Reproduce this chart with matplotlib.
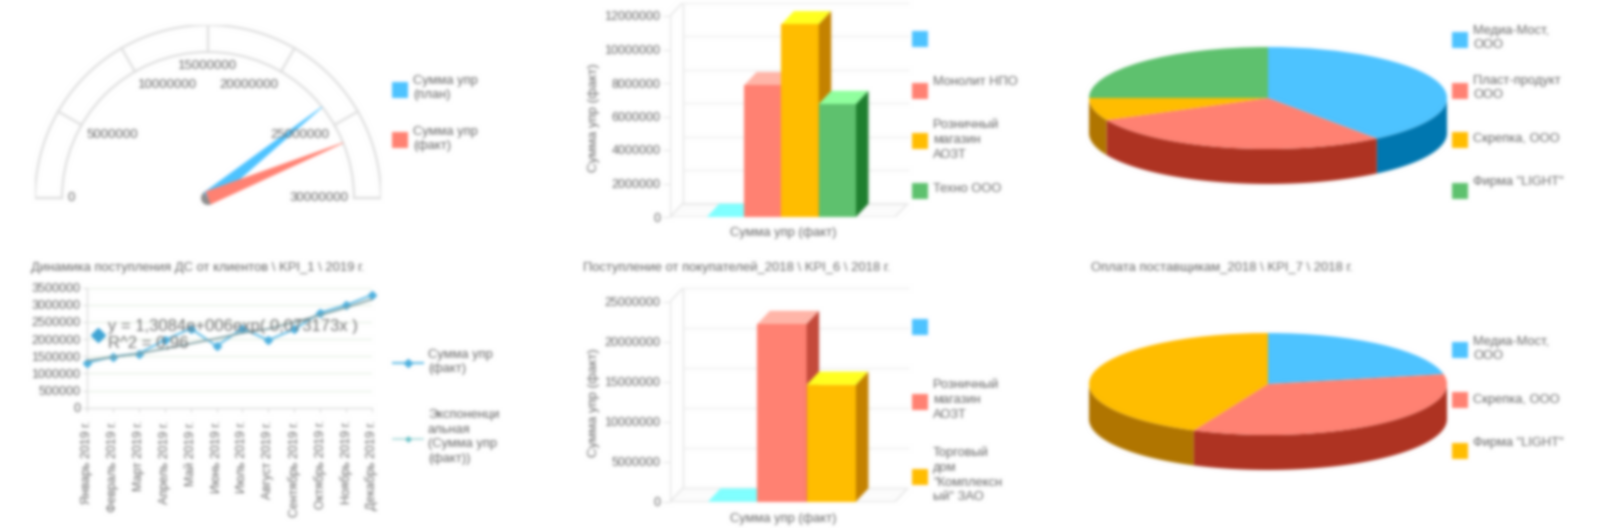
import numpy as np
import matplotlib
matplotlib.use("Agg")
import matplotlib.pyplot as plt
from matplotlib.patches import Wedge, Circle, Polygon, Rectangle

W, H = 1601, 528
BLUR_SIGMA = 1.6

plt.rcParams["font.family"] = ["Liberation Sans", "DejaVu Sans"]

TEXT = "#666666"
GRID = "#e3e3e3"
BLUE, RED, ORANGE, GREEN = "#4DC3FF", "#FF8172", "#FFBD00", "#5EC16E"
SIDE = {BLUE: "#0077B0", RED: "#AE3322", ORANGE: "#B07500", GREEN: "#2E8B42"}
BAR_SIDE = {RED: "#C44A3B", ORANGE: "#C48200", GREEN: "#1F7F2F"}
BAR_TOP = {BLUE: "#80FFFF", RED: "#FFB5A8", ORANGE: "#FFFF20", GREEN: "#90FF9E"}

# gauge
gauge_ticks = [0, 5000000, 10000000, 15000000, 20000000, 25000000, 30000000]
gauge_plan = 23570000
gauge_fact = 26300000

# line chart
months = ["Январь 2019 г.", "Февраль 2019 г.", "Март 2019 г.", "Апрель 2019 г.",
          "Май 2019 г.", "Июнь 2019 г.", "Июль 2019 г.", "Август 2019 г.",
          "Сентябрь 2019 г.", "Октябрь 2019 г.", "Ноябрь 2019 г.", "Декабрь 2019 г."]
fact = [1310000, 1490000, 1580000, 1970000, 2310000, 1800000,
        2310000, 1970000, 2290000, 2770000, 2990000, 3290000]
trend = [1370000, 1480000, 1580000, 1720000, 1870000, 2020000,
         2180000, 2300000, 2490000, 2700000, 2920000, 3160000]
line_ticks = [0, 500000, 1000000, 1500000, 2000000, 2500000, 3000000, 3500000]

# bar charts
bars_top = [0, 7860000, 11500000, 6740000]
bars_top_colors = [BLUE, RED, ORANGE, GREEN]
bars_top_ticks = [0, 2000000, 4000000, 6000000, 8000000, 10000000, 12000000]
bars_bottom = [0, 22200000, 14600000]
bars_bottom_colors = [BLUE, RED, ORANGE]
bars_bottom_ticks = [0, 5000000, 10000000, 15000000, 20000000, 25000000]

# pies
pie_top = [39.6, 28.3, 7.1, 25.0]
pie_top_colors = [BLUE, RED, ORANGE, GREEN]
pie_bottom = [21.9, 34.9, 43.2]
pie_bottom_colors = [BLUE, RED, ORANGE]


def blur(img, dpi):
    # soft look of the source picture, text stays text
    r = int(BLUR_SIGMA * 3)
    k = np.exp(-0.5 * (np.arange(-r, r + 1) / BLUR_SIGMA) ** 2)
    k /= k.sum()
    out = img
    for axis in (0, 1):
        pad = [(0, 0)] * 3
        pad[axis] = (r, r)
        p = np.pad(out, pad, mode="edge")
        out = np.apply_along_axis(lambda a: np.convolve(a, k, mode="valid"), axis, p)
    return out, 0, 0


def panel(x0, y0, x1, y1):
    ax = fig.add_axes([x0 / W, 1 - y1 / H, (x1 - x0) / W, (y1 - y0) / H])
    ax.patch.set_alpha(0)
    return ax


fig = plt.figure(figsize=(W / 100, H / 100), dpi=100, facecolor="white")
fig.set_agg_filter(blur)

# overlay in pixels for titles and legends, above the chart axes
ov = panel(0, 0, W, H)
ov.set_xlim(0, W)
ov.set_ylim(H, 0)
ov.axis("off")
ov.set_zorder(10)


def legend(x_sw, x_txt, items):
    for y_sw, y_txt, color, label in items:
        ov.add_patch(Rectangle((x_sw, y_sw - 8), 16, 16, fc=color, ec="none"))
        ov.text(x_txt, y_txt, label, fontsize=9.3, color=TEXT, va="center", ha="left",
                linespacing=1.3)


def draw_gauge():
    cx, cy, r_out, r_in = 208, 198, 173, 146
    ax = panel(cx - r_out, cy - r_out, cx + r_out, cy + 12)
    ax.set_xlim(-r_out, r_out)
    ax.set_ylim(-12, r_out)
    ax.axis("off")
    ax.add_patch(Wedge((0, 0), r_out, 0, 180, width=r_out - r_in, fc="none", ec="#dedede", lw=1.6))
    vmax = gauge_ticks[-1]
    for v in gauge_ticks:
        a = np.pi * (1 - v / vmax)
        ax.plot([r_in * np.cos(a), r_out * np.cos(a)], [r_in * np.sin(a), r_out * np.sin(a)],
                color="#dedede", lw=1.6)
        x, y = 140 * np.cos(a), 132 * abs(np.sin(a)) ** 1.07
        ha = "center" if abs(x) < 5 else ("left" if x < 0 else "right")
        ax.text(x, y, str(v), fontsize=9.5, color=TEXT, ha=ha, va="center")
    for v, color in ((gauge_plan, BLUE), (gauge_fact, RED)):
        a = np.pi * (1 - v / vmax)
        d = np.array([np.cos(a), np.sin(a)])
        n = np.array([-d[1], d[0]])
        ax.add_patch(Polygon([n * 7, d * r_in + n * 0.4, d * r_in - n * 0.4, -n * 7], fc=color, ec="none"))
    ax.add_patch(Circle((0, 0), 7, fc="#8d8d8d", ec="none", zorder=0.5))
    legend(392, 413, [(90, 88, BLUE, "Сумма упр\n(план)"), (140, 139, RED, "Сумма упр\n(факт)")])


def draw_line():
    ax = panel(87, 287.7, 372, 407.7)
    x = np.arange(len(months))
    ax.plot(x, fact, color="#62BDE6", lw=1.5, marker="D", ms=4.5, mfc="#4DB0DE", mec="#4DB0DE",
            clip_on=False, zorder=3)
    ax.plot(x, trend, color="#7E9EA0", lw=1.3, clip_on=False, zorder=4)
    ax.set_xlim(0, 11)
    ax.set_ylim(0, 3500000)
    ax.set_yticks(line_ticks, [str(v) for v in line_ticks])
    ax.set_xticks(x, months, rotation=90)
    ax.grid(axis="y", color="#e9f1e6", lw=1)
    ax.set_axisbelow(True)
    for s in ("top", "right"):
        ax.spines[s].set_visible(False)
    for s in ("left", "bottom"):
        ax.spines[s].set_color("#d8d8d8")
    ax.tick_params(axis="y", labelsize=9.1, labelcolor=TEXT, color="#d8d8d8", length=3, pad=2)
    ax.tick_params(axis="x", labelsize=8.9, labelcolor=TEXT, color="#d8d8d8", length=3, pad=6)
    ov.text(31, 268, "Динамика поступления ДС от клиентов \\ KPI_1 \\ 2019 г.", fontsize=9.4, color=TEXT, va="center")
    ov.plot([98], [335], marker="D", ms=7.5, color="#3FA4D4", zorder=5)
    ov.text(108, 326, "y = 1,3084e+006exp( 0,073173x )", fontsize=12, color="#707070", va="center", zorder=6)
    ov.text(108, 343, "R^2 = 0,96", fontsize=12, color="#707070", va="center", zorder=6)
    ov.plot([393, 423], [363, 363], color="#62BDE6", lw=1.5)
    ov.plot([408], [363], marker="D", ms=4.5, color="#4DB0DE")
    ov.plot([393, 423], [439, 439], color="#A6D8D8", lw=1.2)
    ov.plot([408], [439], marker="D", ms=2.5, color="#62BFC4")
    ov.text(428, 362, "Сумма упр\n(факт)", fontsize=9.3, color=TEXT, va="center", linespacing=1.3)
    ov.text(428, 437, "Экспоненци\nальная\n(Сумма упр\n(факт))", fontsize=9.3, color=TEXT, va="center", linespacing=1.3)


def draw_bars(base_px, top_px, vmax, values, colors, ticks, start, bar_w, x_label_y, y_label_y):
    x0, x1, dx_px, dy_px = 670, 895, 12.5, 13.3
    wall_top = top_px - dy_px
    ax = panel(x0, wall_top, x1 + dx_px, base_px)
    per_px = vmax / (base_px - top_px)
    ax.set_xlim(0, x1 + dx_px - x0)
    ax.set_ylim(0, (base_px - wall_top) * per_px)
    dy = dy_px * per_px
    span = x1 - x0
    # walls and floor
    ax.add_patch(Polygon([(0, 0), (span, 0), (span + dx_px, dy), (dx_px, dy)], fc="#fcfcfc", ec=GRID, lw=1))
    ax.plot([dx_px, dx_px], [dy, vmax + dy], color=GRID, lw=1)
    ax.plot([0, dx_px], [vmax, vmax + dy], color=GRID, lw=1)
    ax.plot([0, 0], [0, vmax], color=GRID, lw=1)
    for v in ticks:
        ax.plot([dx_px, span + dx_px], [v + dy, v + dy], color="#eeeeee", lw=1, clip_on=False)
    # bars, left to right so that the nearer one covers the side of the previous
    for i, (v, c) in enumerate(zip(values, colors)):
        l = start + i * bar_w
        r = l + bar_w
        ax.add_patch(Polygon([(l, v), (r, v), (r + dx_px, v + dy), (l + dx_px, v + dy)],
                             fc=BAR_TOP[c], ec="none", zorder=3))
        if v > 0:
            ax.add_patch(Rectangle((l, 0), bar_w, v, fc=c, ec="none", zorder=3))
            ax.add_patch(Polygon([(r, 0), (r + dx_px, dy), (r + dx_px, v + dy), (r, v)],
                                 fc=BAR_SIDE[c], ec="none", zorder=3))
    ax.set_xticks([])
    ax.set_yticks(ticks, [str(v) for v in ticks])
    ax.tick_params(axis="y", labelsize=9, labelcolor=TEXT, color=GRID, length=5, pad=2)
    for s in ax.spines.values():
        s.set_visible(False)
    ov.text(783, x_label_y, "Сумма упр (факт)", fontsize=9.3, color=TEXT, ha="center", va="center")
    ov.text(594, y_label_y, "Сумма упр (факт)", fontsize=9.5, color=TEXT, ha="center", va="center", rotation=90)


def draw_pie(cy, values, colors):
    cx, a_px, b_px, depth_px = 1268, 179, 51, 35
    ax = panel(cx - a_px, cy - b_px, cx + a_px, cy + b_px + depth_px)
    ax.pie(values, colors=colors, startangle=90, counterclock=False, radius=1,
           wedgeprops={"linewidth": 0}, frame=False)
    ax.set_aspect("auto")
    d = depth_px / b_px
    ax.set_xlim(-1, 1)
    ax.set_ylim(-1 - d, 1)
    # side of the disc, only the near half shows
    edges = np.cumsum([0] + list(values)) / sum(values) * 360
    for t0, t1, c in zip(edges[:-1], edges[1:], colors):
        t0, t1 = max(t0, 90), min(t1, 270)
        if t1 <= t0:
            continue
        t = np.radians(np.linspace(t0, t1, 60))
        xs, ys = np.sin(t), np.cos(t)
        pts = np.r_[np.c_[xs, ys], np.c_[xs, ys - d][::-1]]
        ax.add_patch(Polygon(pts, fc=SIDE[c], ec="none", zorder=0.5))


draw_gauge()
draw_line()

draw_bars(217, 16, 12000000, bars_top, bars_top_colors, bars_top_ticks, 36.8, 37.3, 233, 118)
legend(912, 933, [(39, 39, BLUE, ""), (91, 82, RED, "Монолит НПО"),
                  (141, 140, ORANGE, "Розничный\nмагазин\nАОЗТ"), (191, 189, GREEN, "Техно ООО")])

draw_bars(501.7, 301.7, 25000000, bars_bottom, bars_bottom_colors, bars_bottom_ticks, 38, 49.3, 519, 403)
ov.text(583, 268, "Поступление от покупателей_2018 \\ KPI_6 \\ 2018 г.", fontsize=9.4, color=TEXT, va="center")
legend(912, 933, [(327, 327, BLUE, ""), (402, 400, RED, "Розничный\nмагазин\nАОЗТ"),
                  (477, 475, ORANGE, "Торговый\nдом\n\"Комплексн\nый\" ЗАО")])

draw_pie(98, pie_top, pie_top_colors)
legend(1452, 1473, [(40, 38, BLUE, "Медиа-Мост,\nООО"), (91, 88, RED, "Пласт-продукт\nООО"),
                    (140, 139, ORANGE, "Скрепка, ООО"), (191, 182, GREEN, "Фирма \"LIGHT\"")])

draw_pie(384, pie_bottom, pie_bottom_colors)
ov.text(1091, 268, "Оплата поставщикам_2018 \\ KPI_7 \\ 2018 г.", fontsize=9.4, color=TEXT, va="center")
legend(1452, 1473, [(350, 349, BLUE, "Медиа-Мост,\nООО"), (400, 400, RED, "Скрепка, ООО"),
                    (451, 443, ORANGE, "Фирма \"LIGHT\"")])

fig.savefig("out.png", dpi=100)
